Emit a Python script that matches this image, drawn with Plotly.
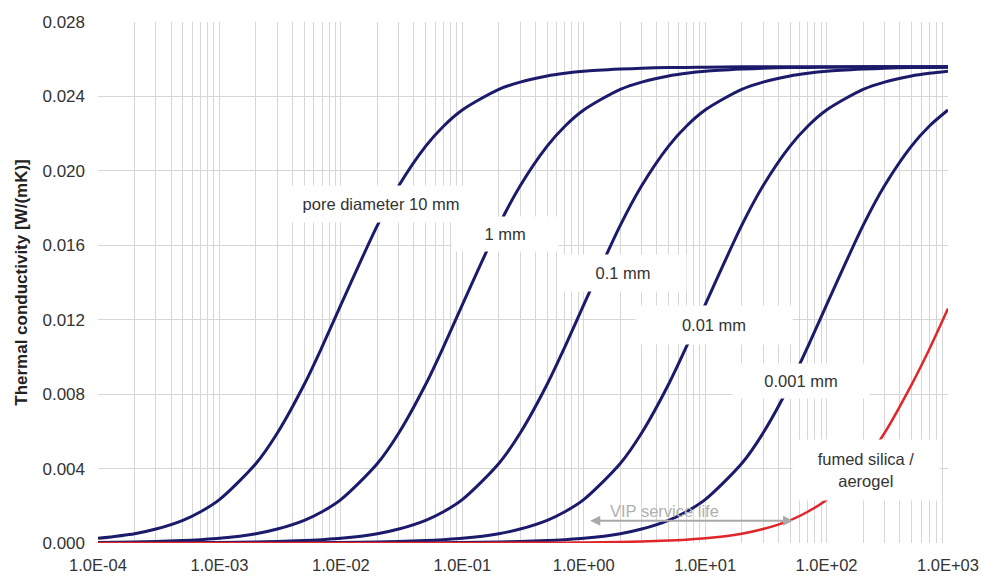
import numpy as np
import plotly.graph_objects as go

# pressure grid [mbar] (1, 2, 3, 5, 7 per decade)
pressure = [1e-4, 2e-4, 3e-4, 5e-4, 7e-4,
            1e-3, 2e-3, 3e-3, 5e-3, 7e-3,
            1e-2, 2e-2, 3e-2, 5e-2, 7e-2,
            1e-1, 2e-1, 3e-1, 5e-1, 7e-1,
            1e0, 2e0, 3e0, 5e0, 7e0,
            1e1, 2e1, 3e1, 5e1, 7e1,
            1e2, 2e2, 3e2, 5e2, 7e2,
            1e3]

pore_10mm = [0.00025, 0.00050, 0.00075, 0.00122, 0.00168,
             0.00233, 0.00427, 0.00591, 0.00853, 0.01054,
             0.01280, 0.01707, 0.01920, 0.02133, 0.02240,
             0.02327, 0.02438, 0.02477, 0.02510, 0.02524,
             0.02535, 0.02547, 0.02552, 0.02555, 0.02556,
             0.02557, 0.02559, 0.02559, 0.02560, 0.02560,
             0.02560, 0.02560, 0.02560, 0.02560, 0.02560,
             0.02560]

pore_1mm = [0.00003, 0.00005, 0.00008, 0.00013, 0.00018,
            0.00025, 0.00050, 0.00075, 0.00122, 0.00168,
            0.00233, 0.00427, 0.00591, 0.00853, 0.01054,
            0.01280, 0.01707, 0.01920, 0.02133, 0.02240,
            0.02327, 0.02438, 0.02477, 0.02510, 0.02524,
            0.02535, 0.02547, 0.02552, 0.02555, 0.02556,
            0.02557, 0.02559, 0.02559, 0.02560, 0.02560,
            0.02560]

pore_01mm = [0.00000, 0.00001, 0.00001, 0.00001, 0.00002,
             0.00003, 0.00005, 0.00008, 0.00013, 0.00018,
             0.00025, 0.00050, 0.00075, 0.00122, 0.00168,
             0.00233, 0.00427, 0.00591, 0.00853, 0.01054,
             0.01280, 0.01707, 0.01920, 0.02133, 0.02240,
             0.02327, 0.02438, 0.02477, 0.02510, 0.02524,
             0.02535, 0.02547, 0.02552, 0.02555, 0.02556,
             0.02557]

pore_001mm = [0.00000, 0.00000, 0.00000, 0.00000, 0.00000,
              0.00000, 0.00001, 0.00001, 0.00001, 0.00002,
              0.00003, 0.00005, 0.00008, 0.00013, 0.00018,
              0.00025, 0.00050, 0.00075, 0.00122, 0.00168,
              0.00233, 0.00427, 0.00591, 0.00853, 0.01054,
              0.01280, 0.01707, 0.01920, 0.02133, 0.02240,
              0.02327, 0.02438, 0.02477, 0.02510, 0.02524,
              0.02535]

pore_0001mm = [0.00000, 0.00000, 0.00000, 0.00000, 0.00000,
               0.00000, 0.00000, 0.00000, 0.00000, 0.00000,
               0.00000, 0.00001, 0.00001, 0.00001, 0.00002,
               0.00003, 0.00005, 0.00008, 0.00013, 0.00018,
               0.00025, 0.00050, 0.00075, 0.00122, 0.00168,
               0.00233, 0.00427, 0.00591, 0.00853, 0.01054,
               0.01280, 0.01707, 0.01920, 0.02133, 0.02240,
               0.02327]

fumed_silica = [0.00000, 0.00000, 0.00000, 0.00000, 0.00000,
                0.00000, 0.00000, 0.00000, 0.00000, 0.00000,
                0.00000, 0.00000, 0.00000, 0.00000, 0.00000,
                0.00000, 0.00001, 0.00001, 0.00001, 0.00002,
                0.00003, 0.00005, 0.00008, 0.00013, 0.00018,
                0.00025, 0.00050, 0.00075, 0.00122, 0.00168,
                0.00233, 0.00427, 0.00591, 0.00850, 0.01040,
                0.01260]

x_tickvals = [1e-4, 1e-3, 1e-2, 1e-1, 1e0, 1e1, 1e2, 1e3]
x_ticklabels = ["1.0E-04", "1.0E-03", "1.0E-02", "1.0E-01",
                "1.0E+00", "1.0E+01", "1.0E+02", "1.0E+03"]
y_tickvals = [0.000, 0.004, 0.008, 0.012, 0.016, 0.020, 0.024, 0.028]

curve_labels = ["pore diameter 10 mm", "1 mm", "0.1 mm", "0.01 mm", "0.001 mm",
                "fumed silica /<br>aerogel"]
label_pos = [(2.16e-2, 0.0182), (2.24e-1, 0.0166), (2.1, 0.0145), (11.8, 0.0117),
             (61.0, 0.0087), (2.1e2, 0.0039)]
label_box = [(176, 26), (96, 24), (116, 26), (146, 28), (126, 24), (136, 50)]

NAVY = "#1b1a6b"
RED = "#e0262b"
GRID = "#d6d6d6"
TXT = "#333333"
FONT = "Liberation Sans, Arial, sans-serif"

fig = go.Figure()
for ys in [pore_10mm, pore_1mm, pore_01mm, pore_001mm, pore_0001mm]:
    fig.add_trace(go.Scatter(x=pressure, y=ys, mode="lines",
                             line=dict(color=NAVY, width=3, shape="spline", smoothing=0.8),
                             showlegend=False, hoverinfo="skip"))
fig.add_trace(go.Scatter(x=pressure, y=fumed_silica, mode="lines",
                         line=dict(color=RED, width=2.5, shape="spline", smoothing=0.8),
                         showlegend=False, hoverinfo="skip"))

for txt, (px, py), (w, h) in zip(curve_labels, label_pos, label_box):
    fig.add_annotation(x=np.log10(px), y=py, xref="x", yref="y", text=txt,
                       showarrow=False, bgcolor="white", width=w, height=h,
                       borderpad=5, font=dict(family=FONT, size=16.5, color=TXT))

# VIP service life arrow
fig.add_annotation(x=np.log10(53), y=0.0012, ax=np.log10(1.1), ay=0.0012,
                   xref="x", yref="y", axref="x", ayref="y", text="",
                   showarrow=True, arrowside="end+start", arrowhead=2,
                   startarrowhead=2, arrowwidth=2, arrowcolor="#a9a9a9")
fig.add_annotation(x=np.log10(4.6), y=0.0017, xref="x", yref="y",
                   text="VIP service life", showarrow=False,
                   font=dict(family=FONT, size=16.5, color="#b0b0b0"))

fig.update_layout(
    width=981, height=577,
    margin=dict(l=98, r=33, t=22, b=34, autoexpand=False),
    paper_bgcolor="white", plot_bgcolor="white",
    font=dict(family=FONT, size=16.5, color=TXT),
    xaxis=dict(type="log", range=[-4, 3], tickvals=x_tickvals, ticktext=x_ticklabels,
               automargin=False,
               showgrid=True, gridcolor=GRID, gridwidth=1, zeroline=False,
               showline=False, ticks="", ticklabelstandoff=10,
               minor=dict(showgrid=True, gridcolor=GRID, gridwidth=1, dtick="D1", ticks=""),
               tickfont=dict(family=FONT, size=16.5, color=TXT)),
    yaxis=dict(range=[0, 0.028], tickvals=y_tickvals, tickformat=".3f",
               automargin=False,
               showgrid=True, gridcolor=GRID, gridwidth=1, zeroline=False,
               showline=False, ticks="", ticklabelstandoff=12,
               tickfont=dict(family=FONT, size=17, color=TXT),
               title=dict(text="<b>Thermal conductivity [W/(mK)]</b>", standoff=10,
                          font=dict(family=FONT, size=17, color="#222222"))),
)

fig.write_html("out.html", config={"displayModeBar": False},
               post_script="document.body.style.margin='0px';")
